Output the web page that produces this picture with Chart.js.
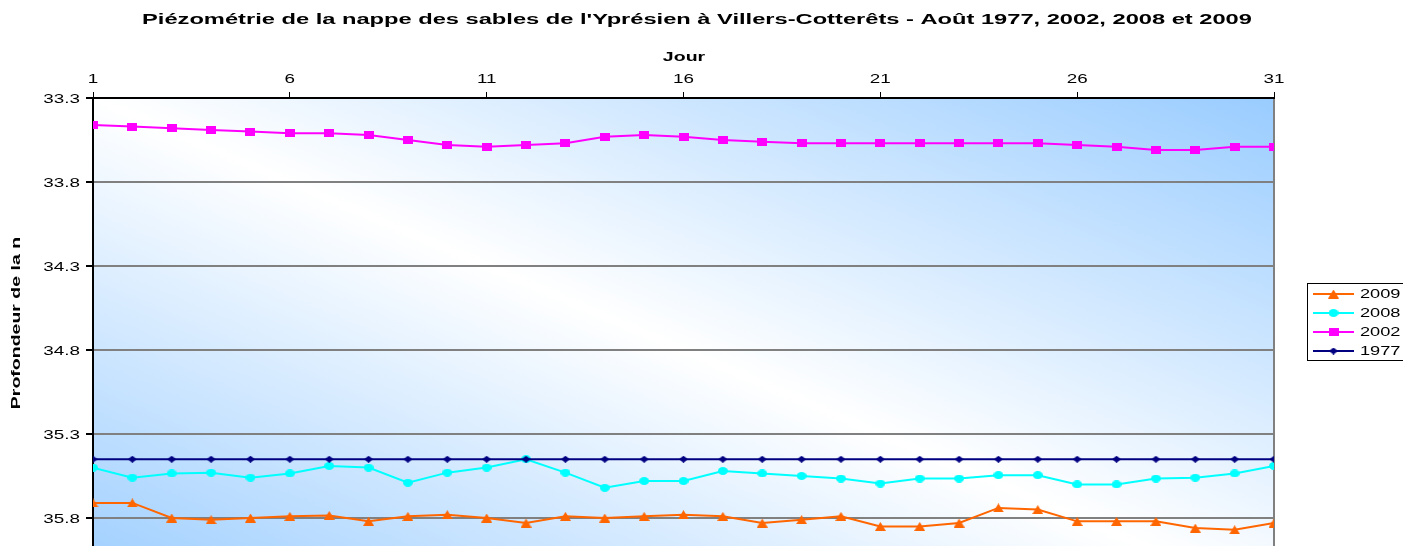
<!DOCTYPE html>
<html>
<head>
<meta charset="utf-8">
<script src="https://cdn.jsdelivr.net/npm/chart.js@4"></script>
<style>
  html, body { margin: 0; padding: 0; background: #fff; overflow: hidden; }
  #wrap { width: 1403px; height: 610px; }
</style>
</head>
<body>
<div id="wrap"><canvas id="chart" width="1403" height="610"></canvas></div>
<script>
"use strict";
const chartTitle = "Piézométrie de la nappe des sables de l'Yprésien à Villers-Cotterêts - Août 1977, 2002, 2008 et 2009";
const xTitle = 'Jour';
const yTitle = 'Profondeur de la n';

const days = [1, 2, 3, 4, 5, 6, 7, 8, 9, 10, 11, 12, 13, 14, 15, 16, 17, 18, 19, 20, 21, 22, 23, 24, 25, 26, 27, 28, 29, 30, 31];
const dayTicks = [1, 6, 11, 16, 21, 26, 31];
const depthTicks = [33.3, 33.8, 34.3, 34.8, 35.3, 35.8, 36.3];

const seriesNames = ['1977', '2002', '2008', '2009'];
const v1977 = [35.45, 35.45, 35.45, 35.45, 35.45, 35.45, 35.45, 35.45, 35.45, 35.45, 35.45, 35.45, 35.45, 35.45, 35.45, 35.45,
    35.45, 35.45, 35.45, 35.45, 35.45, 35.45, 35.45, 35.45, 35.45, 35.45, 35.45, 35.45, 35.45, 35.45, 35.45];
const v2002 = [33.46, 33.47, 33.48, 33.49, 33.50, 33.51, 33.51, 33.52, 33.55, 33.58, 33.59, 33.58, 33.57, 33.53, 33.52, 33.53,
    33.55, 33.56, 33.57, 33.57, 33.57, 33.57, 33.57, 33.57, 33.57, 33.58, 33.59, 33.61, 33.61, 33.59, 33.59];
const v2008 = [35.50, 35.56, 35.535, 35.53, 35.56, 35.535, 35.49, 35.50, 35.59, 35.53, 35.50, 35.45, 35.53, 35.62, 35.58, 35.58,
    35.52, 35.535, 35.55, 35.565, 35.595, 35.565, 35.565, 35.545, 35.545, 35.60, 35.60, 35.565, 35.56, 35.535, 35.49];
const v2009 = [35.71, 35.71, 35.80, 35.81, 35.80, 35.79, 35.785, 35.82, 35.79, 35.78, 35.80, 35.83, 35.79, 35.80, 35.79, 35.78,
    35.79, 35.83, 35.81, 35.79, 35.85, 35.85, 35.83, 35.74, 35.75, 35.82, 35.82, 35.82, 35.86, 35.87, 35.83];

const FONT = '"Liberation Sans", Arial, sans-serif';

// small marker images, a bit wider than tall like in the original
function makeMarker(shape, color, w, h) {
    const c = document.createElement('canvas');
    c.width = w;
    c.height = h;
    const g = c.getContext('2d');
    g.fillStyle = color;
    g.beginPath();
    if (shape === 'rect') {
        g.rect(0, 0, w, h);
    } else if (shape === 'ellipse') {
        g.ellipse(w / 2, h / 2, w / 2, h / 2, 0, 0, Math.PI * 2);
    } else if (shape === 'diamond') {
        g.moveTo(w / 2, 0);
        g.lineTo(w, h / 2);
        g.lineTo(w / 2, h);
        g.lineTo(0, h / 2);
        g.closePath();
    } else {
        g.moveTo(w / 2, 0);
        g.lineTo(w, h);
        g.lineTo(0, h);
        g.closePath();
    }
    g.fill();
    return c;
}

const markers = {
    '1977': makeMarker('diamond', '#000080', 9, 7),
    '2002': makeMarker('rect', '#FF00FF', 10, 8),
    '2008': makeMarker('ellipse', '#00FFFF', 10, 8),
    '2009': makeMarker('triangle', '#FF6600', 11, 9)
};
const colors = { '1977': '#000080', '2002': '#FF00FF', '2008': '#00FFFF', '2009': '#FF6600' };
const values = { '1977': v1977, '2002': v2002, '2008': v2008, '2009': v2009 };

function stretchText(ctx, text, x, y, font, sx, align, angle) {
    ctx.save();
    ctx.translate(x, y);
    if (angle) {
        ctx.rotate(angle);
    }
    ctx.scale(sx, 1);
    ctx.font = font;
    ctx.textAlign = align;
    ctx.textBaseline = 'middle';
    ctx.fillStyle = '#000';
    ctx.fillText(text, 0, 0);
    ctx.restore();
}

const plotBackground = {
    id: 'plotBackground',
    beforeDraw(chart) {
        const { ctx, chartArea } = chart;
        const w = chartArea.right - chartArea.left;
        const h = chartArea.bottom - chartArea.top;
        ctx.save();
        ctx.translate(chartArea.left, chartArea.top);
        ctx.scale(w, h);
        const grad = ctx.createLinearGradient(0, 1, 1, 0);
        grad.addColorStop(0, '#99CCFF');
        grad.addColorStop(0.5, '#FFFFFF');
        grad.addColorStop(1, '#99CCFF');
        ctx.fillStyle = grad;
        ctx.fillRect(0, 0, 1, 1);
        ctx.restore();
        ctx.save();
        ctx.strokeStyle = '#808080';
        ctx.lineWidth = 2;
        ctx.beginPath();
        ctx.moveTo(chartArea.right, chartArea.top);
        ctx.lineTo(chartArea.right, chartArea.bottom);
        ctx.lineTo(chartArea.left, chartArea.bottom);
        ctx.stroke();
        ctx.restore();
    }
};

const textLayer = {
    id: 'textLayer',
    afterDraw(chart) {
        const { ctx } = chart;
        const xs = chart.scales.x;
        const ys = chart.scales.y;
        stretchText(ctx, chartTitle, 697, 20, 'bold 14px ' + FONT, 1.69, 'center');
        stretchText(ctx, xTitle, 684, 57, 'bold 13px ' + FONT, 1.5, 'center');
        xs.ticks.forEach(t => {
            stretchText(ctx, String(t.value), xs.getPixelForValue(t.value), 79, '13px ' + FONT, 1.45, 'center');
        });
        ys.ticks.forEach(t => {
            stretchText(ctx, t.value.toFixed(1), 80, ys.getPixelForValue(t.value) + 1, '13px ' + FONT, 1.45, 'right');
        });
        stretchText(ctx, yTitle, 16, 323, 'bold 13px ' + FONT, 1.5, 'center', -Math.PI / 2);

        // legend, last series first
        ctx.save();
        ctx.fillStyle = '#fff';
        ctx.fillRect(1307.5, 283.5, 120, 77);
        ctx.strokeStyle = '#000';
        ctx.lineWidth = 1;
        ctx.strokeRect(1307.5, 283.5, 120, 77);
        ctx.restore();
        const sets = chart.data.datasets.slice().reverse();
        sets.forEach((ds, k) => {
            const y = 294 + k * 19;
            ctx.save();
            ctx.strokeStyle = ds.borderColor;
            ctx.lineWidth = 2;
            ctx.beginPath();
            ctx.moveTo(1313, y);
            ctx.lineTo(1354, y);
            ctx.stroke();
            const img = ds.pointStyle;
            ctx.drawImage(img, 1333.5 - img.width / 2, y - img.height / 2);
            ctx.restore();
            stretchText(ctx, ds.label, 1360, y, '13px ' + FONT, 1.4, 'left');
        });
    }
};

const datasets = seriesNames.map(name => ({
    label: name,
    data: days.map((d, i) => ({ x: d, y: values[name][i] })),
    borderColor: colors[name],
    backgroundColor: colors[name],
    borderWidth: 2,
    pointStyle: markers[name],
    pointRadius: 5,
    tension: 0
}));

const context = document.getElementById('chart');
const depthChart = new Chart(context, {
    type: 'line',
    data: { datasets: datasets },
    options: {
        responsive: false,
        animation: false,
        events: [],
        layout: { padding: { left: 0, right: 129, top: 0, bottom: 8 } },
        plugins: {
            legend: { display: false },
            title: { display: false },
            tooltip: { enabled: false }
        },
        scales: {
            x: {
                type: 'linear',
                position: 'top',
                min: 1,
                max: 31,
                afterBuildTicks: s => { s.ticks = dayTicks.map(v => ({ value: v })); },
                afterFit: s => { s.height = 98; },
                ticks: { display: false },
                grid: { drawOnChartArea: false, tickLength: 6, color: '#000', lineWidth: 1 },
                border: { display: true, color: '#000', width: 2 }
            },
            y: {
                reverse: true,
                min: 33.3,
                max: 36.3,
                afterBuildTicks: s => { s.ticks = depthTicks.map(v => ({ value: v })); },
                afterFit: s => { s.width = 93; },
                ticks: { display: false },
                grid: {
                    color: c => (c.index === 0 ? '#000' : '#808080'),
                    lineWidth: 2,
                    tickLength: 7,
                    tickColor: '#000'
                },
                border: { display: true, color: '#000', width: 2 }
            }
        }
    },
    plugins: [plotBackground, textLayer]
});
</script>
</body>
</html>
